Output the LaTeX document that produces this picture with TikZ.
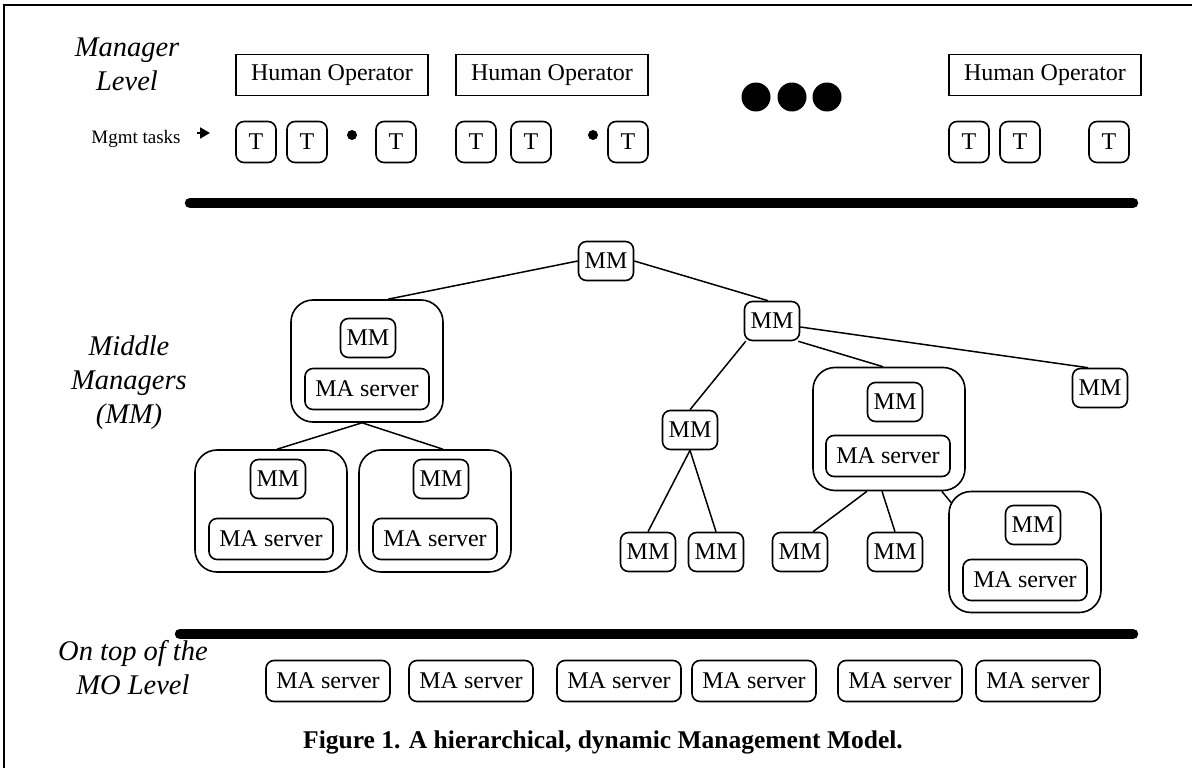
\documentclass[tikz,border=0pt]{standalone}
\usepackage{fontspec}
\setmainfont{Liberation Serif}
\usetikzlibrary{calc,arrows.meta}
\begin{document}
\begin{tikzpicture}[x=1pt,y=-1pt,
  every node/.style={font=\fontsize{24}{28}\selectfont},
  rb/.style={draw, line width=1.6pt, rounded corners=8pt, inner sep=0pt},
  tbox/.style={rb, minimum width=40pt, minimum height=41pt},
  mmbox/.style={rb, minimum width=55pt, minimum height=39pt},
  mabox/.style={rb, minimum width=124pt, minimum height=41pt},
  grp/.style={draw, line width=1.6pt, rounded corners=22pt, minimum width=152pt, minimum height=122pt, inner sep=0pt},
  hobox/.style={draw, line width=1.6pt, minimum width=192pt, minimum height=41pt, inner sep=0pt},
  lvl/.style={font=\fontsize{28.5}{34}\selectfont\itshape, align=center},
  bar/.style={line width=10.5pt, line cap=round},
  conn/.style={line width=1.5pt},
]
% canvas and frame
\fill[white] (0,0) rectangle (1192,768);
\useasboundingbox (0,0) rectangle (1192,768);
\draw[line width=1.8pt] (4,768) -- (4,5) -- (1192,5);

% level labels
\node[lvl] (mgrlvl) at (127,64) {Manager\\Level};
\node[lvl] (midlvl) at (129,383) {Middle\\Managers\\(MM)};
\node[lvl] (molvl) at (133,668) {On top of the\\MO Level};

% manager level
\node[hobox] (ho1) at (332,75) {Human Operator};
\node[hobox] (ho2) at (552,75) {Human Operator};
\node[hobox] (ho3) at (1045,75) {Human Operator};
\fill (756,97) circle (14.5pt) (792,97) circle (14.5pt) (827,97) circle (14.5pt);

\node[font=\fontsize{19}{22}\selectfont] (mgmt) at (136,139) {Mgmt tasks};
\coordinate (arrtip) at (210,133);
\draw[line width=2pt, -{Triangle[length=10pt,width=11pt]}] (arrtip -| mgmt.east) ++(13,0) -- (arrtip);

\node[tbox] (t1) at (256,142) {T};
\node[tbox] (t2) at (307,142) {T};
\node[tbox] (t3) at (396,142) {T};
\node[tbox] (t4) at (476,142) {T};
\node[tbox] (t5) at (531,142) {T};
\node[tbox] (t6) at (628,142) {T};
\node[tbox] (t7) at (969,142) {T};
\node[tbox] (t8) at (1020,142) {T};
\node[tbox] (t9) at (1109,142) {T};
\fill (352,135) circle (5pt) (593,135) circle (5pt);

% separating bars
\coordinate (b1l) at (190,203);
\coordinate (b1r) at (1133,203);
\coordinate (b2l) at (180,634);
\coordinate (b2r) at (1133,634);
\draw[bar] (b1l) -- (b1r);
\draw[bar] (b2l) -- (b2r);

% middle managers
\node[mmbox] (root) at (606,261) {MM};

\node[grp] (L) at (367,361) {};
\node[mmbox] (Lmm) at (368,338) {MM};
\node[mabox] (Lma) at (367,389) {MA server};

\node[grp] (A) at (271,511) {};
\node[mmbox] (Amm) at (278,479) {MM};
\node[mabox] (Ama) at (271,539) {MA server};

\node[grp] (Bx) at (435,511) {};
\node[mmbox] (Bmm) at (441,479) {MM};
\node[mabox] (Bma) at (435,539) {MA server};

\node[mmbox] (mm2) at (772,321) {MM};
\node[mmbox] (far) at (1100,388) {MM};
\node[mmbox] (mid) at (690,430) {MM};

\node[grp, minimum height=123pt] (RM) at (889,429) {};
\node[mmbox] (RMmm) at (895,402) {MM};
\node[mabox] (RMma) at (888,456) {MA server};

\node[mmbox] (b1) at (648,552) {MM};
\node[mmbox] (b2) at (716,552) {MM};
\node[mmbox] (b3) at (800,552) {MM};
\node[mmbox] (b4) at (895,552) {MM};

\node[grp, minimum height=121pt] (FR) at (1025,552) {};
\node[mmbox] (FRmm) at (1033,525) {MM};
\node[mabox] (FRma) at (1025,580) {MA server};

% tree links
\draw[conn] (root.west) -- ($(L.north)+(21,0)$);
\draw[conn] (root.east) -- ($(mm2.north)+(-4,0)$);
\draw[conn] ($(L.south)+(-5,0)$) -- ($(A.north)+(6,0)$);
\draw[conn] ($(L.south)+(-5,0)$) -- ($(Bx.north)+(8,0)$);
\draw[conn] ($(mm2.east)+(0,6)$) -- ($(far.north)+(-12,0)$);
\draw[conn] ($(mm2.south east)+(-2,0)$) -- ($(RM.north)+(-6,0)$);
\draw[conn] ($(mm2.south west)+(2,0)$) -- (mid.north);
\draw[conn] (mid.south) -- (b1.north);
\draw[conn] (mid.south) -- (b2.north);
\draw[conn] ($(RM.south)+(-22,0)$) -- ($(b3.north)+(13,0)$);
\draw[conn] ($(RM.south)+(-7,0)$) -- (b4.north);
\draw[conn] ($(RM.south east)+(-24,0)$) -- ($(FR.north west)+(3,12)$);

% managed-object level
\node[mabox] (ma1) at (328,681) {MA server};
\node[mabox] (ma2) at (471,681) {MA server};
\node[mabox] (ma3) at (619,681) {MA server};
\node[mabox] (ma4) at (754,681) {MA server};
\node[mabox] (ma5) at (900,681) {MA server};
\node[mabox] (ma6) at (1038,681) {MA server};

% caption
\node[font=\fontsize{25.5}{30}\selectfont\bfseries] (cap) at (603,742) {Figure 1. A hierarchical, dynamic Management Model.};
\end{tikzpicture}
\end{document}
